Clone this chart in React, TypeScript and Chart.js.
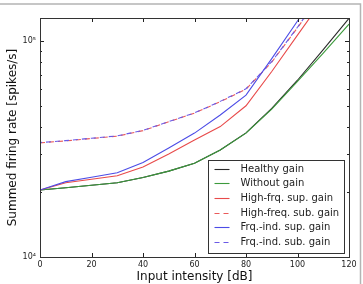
import React, { useEffect, useRef } from 'react';
import { Chart, registerables } from 'chart.js';

Chart.register(...registerables);

// Input intensity in dB
const intensity = [0, 10, 20, 30, 40, 50, 60, 70, 80, 90, 100, 110, 120];

// Summed firing rate in spikes/s for each gain model
const healthyGain = [20430, 20930, 21500, 22080, 23340, 25000, 27200, 31300, 37600, 48800, 65900, 91400, 127500];
const withoutGain = [20430, 20930, 21500, 22080, 23340, 25000, 27200, 31300, 37500, 48400, 65100, 88000, 120000];
const highFrqSupGain = [20430, 22080, 22900, 23780, 26100, 30000, 34800, 40200, 50200, 72300, 106600, 157000, 232000];
const highFreqSubGain = [33800, 34500, 35400, 36300, 38500, 42300, 46400, 52400, 59900, 79900, 115300, 170000, 250000];
const frqIndSupGain = [20430, 22340, 23400, 24550, 27400, 32000, 37500, 45500, 56200, 83000, 124000, 185000, 275000];
const frqIndSubGain = [33900, 34600, 35500, 36400, 38600, 42400, 46500, 52600, 60200, 80300, 116000, 171000, 252000];

const seriesLabels = [
  'Healthy gain',
  'Without gain',
  'High-frq. sup. gain',
  'High-freq. sub. gain',
  'Frq.-ind. sup. gain',
  'Frq.-ind. sub. gain',
];

const xTickValues = [0, 20, 40, 60, 80, 100, 120];
const yMajorTicks = [10000, 100000];
const yMinorTicks = [20000, 30000, 40000, 50000, 60000, 70000, 80000, 90000];

const FONT = "'DejaVu Sans', sans-serif";
const SUPERSCRIPT: Record<string, string> = { '0': '⁰', '1': '¹', '2': '²', '3': '³', '4': '⁴', '5': '⁵', '6': '⁶', '7': '⁷', '8': '⁸', '9': '⁹' };

const toPoints = (ys: number[]) => intensity.map((x, i) => ({ x, y: ys[i] }));

// Inward ticks, axes frame, legend and the outer page frame
const decorations = {
  id: 'decorations',
  afterDraw(chart: any) {
    const ctx = chart.ctx as CanvasRenderingContext2D;
    const { left, right, top, bottom } = chart.chartArea;
    const xs = chart.scales.x;
    const ys = chart.scales.y;

    ctx.save();
    ctx.strokeStyle = '#222';
    ctx.lineWidth = 1;
    ctx.beginPath();
    for (const v of xTickValues) {
      const px = Math.round(xs.getPixelForValue(v)) + 0.5;
      ctx.moveTo(px, bottom);
      ctx.lineTo(px, bottom - 4);
      ctx.moveTo(px, top);
      ctx.lineTo(px, top + 4);
    }
    for (const v of yMajorTicks) {
      const py = Math.round(ys.getPixelForValue(v)) + 0.5;
      ctx.moveTo(left, py);
      ctx.lineTo(left + 4, py);
      ctx.moveTo(right, py);
      ctx.lineTo(right - 4, py);
    }
    for (const v of yMinorTicks) {
      const py = Math.round(ys.getPixelForValue(v)) + 0.5;
      ctx.moveTo(left, py);
      ctx.lineTo(left + 2, py);
      ctx.moveTo(right, py);
      ctx.lineTo(right - 2, py);
    }
    ctx.stroke();

    ctx.strokeStyle = '#333';
    ctx.strokeRect(Math.round(left) + 0.5, Math.round(top) + 0.5, Math.round(right - left), Math.round(bottom - top));

    // legend
    ctx.font = `10px ${FONT}`;
    const datasets = chart.data.datasets;
    let maxW = 0;
    for (const ds of datasets) maxW = Math.max(maxW, ctx.measureText(ds.label).width);
    const rowH = 14.7;
    const boxW = Math.round(6 + 15 + 11 + maxW + 5);
    const boxH = Math.round(8 + rowH * (datasets.length - 1) + 11);
    const bx = Math.round(right - 5 - boxW) + 0.5;
    const by = Math.round(bottom - 4 - boxH) + 0.5;
    ctx.fillStyle = '#fff';
    ctx.fillRect(bx, by, boxW, boxH);
    ctx.strokeStyle = '#333';
    ctx.lineWidth = 1;
    ctx.strokeRect(bx, by, boxW, boxH);
    ctx.textBaseline = 'middle';
    ctx.textAlign = 'left';
    datasets.forEach((ds: any, i: number) => {
      const cy = by + 8 + i * rowH;
      ctx.strokeStyle = ds.borderColor;
      ctx.lineWidth = ds.borderWidth;
      ctx.setLineDash(ds.borderDash || []);
      ctx.beginPath();
      ctx.moveTo(bx + 6, Math.round(cy) + 0.5);
      ctx.lineTo(bx + 21, Math.round(cy) + 0.5);
      ctx.stroke();
      ctx.setLineDash([]);
      ctx.fillStyle = '#222';
      ctx.fillText(ds.label, bx + 32, cy + 0.5);
    });

    // outer frame
    ctx.strokeStyle = '#b4b4b4';
    ctx.lineWidth = 1.5;
    ctx.beginPath();
    ctx.moveTo(0, 4);
    ctx.lineTo(360.5, 4);
    ctx.lineTo(360.5, chart.height);
    ctx.stroke();
    ctx.restore();
  },
};

export default function App() {
  const canvasRef = useRef<HTMLCanvasElement | null>(null);

  useEffect(() => {
    if (!canvasRef.current) return;
    const line = (label: string, data: number[], color: string, dashed: boolean, order: number, dashOffset = 0) => ({
      label,
      data: toPoints(data),
      borderColor: color,
      backgroundColor: color,
      borderWidth: 1.1,
      borderDash: dashed ? [5, 4] : [],
      borderDashOffset: dashOffset,
      pointRadius: 0,
      tension: 0,
      fill: false,
      clip: 0,
      order,
    });

    const chart = new Chart(canvasRef.current, {
      type: 'line',
      data: {
        datasets: [
          line(seriesLabels[0], healthyGain, '#2a2a2a', false, 5),
          line(seriesLabels[1], withoutGain, '#3c9a3c', false, 4),
          line(seriesLabels[2], highFrqSupGain, '#e84a4a', false, 3),
          line(seriesLabels[3], highFreqSubGain, '#ea5a5a', true, 2),
          line(seriesLabels[4], frqIndSupGain, '#4c4ce6', false, 1),
          line(seriesLabels[5], frqIndSubGain, '#6a5ae6', true, 0, 3),
        ],
      },
      options: {
        animation: false,
        responsive: true,
        maintainAspectRatio: false,
        layout: { padding: { left: 6, right: 14, top: 18, bottom: 0 } },
        plugins: { legend: { display: false }, tooltip: { enabled: false } },
        scales: {
          x: {
            type: 'linear',
            min: 0,
            max: 120,
            afterFit: (s: any) => { s.height = 27; },
            afterBuildTicks: (s: any) => { s.ticks = xTickValues.map((value) => ({ value })); },
            grid: { display: false, drawTicks: false },
            border: { display: false },
            ticks: { font: { family: FONT, size: 8 }, color: '#222', padding: 3, maxRotation: 0 },
            title: {
              display: true,
              text: 'Input intensity [dB]',
              font: { family: FONT, size: 12 },
              color: '#111',
              padding: { top: 0, bottom: 0 },
            },
          },
          y: {
            type: 'logarithmic',
            min: 10000,
            max: 128000,
            afterFit: (s: any) => { s.width = 34; },
            grid: { display: false, drawTicks: false },
            border: { display: false },
            ticks: {
              autoSkip: false,
              font: { family: FONT, size: 8 },
              color: '#222',
              padding: 4,
              callback: (value: any) => {
                const v = Number(value);
                const e = Math.log10(v);
                if (Math.abs(e - Math.round(e)) > 1e-9) return '';
                return '10' + String(Math.round(e)).split('').map((c) => SUPERSCRIPT[c]).join('');
              },
            },
            title: {
              display: true,
              text: 'Summed firing rate [spikes/s]',
              font: { family: FONT, size: 12 },
              color: '#111',
              padding: { top: 0, bottom: 0 },
            },
          },
        },
      },
      plugins: [decorations],
    });

    return () => chart.destroy();
  }, []);

  return (
    <div style={{ position: 'fixed', left: 0, top: 0, width: 363, height: 284, background: '#fff' }}>
      <canvas ref={canvasRef} />
    </div>
  );
}
